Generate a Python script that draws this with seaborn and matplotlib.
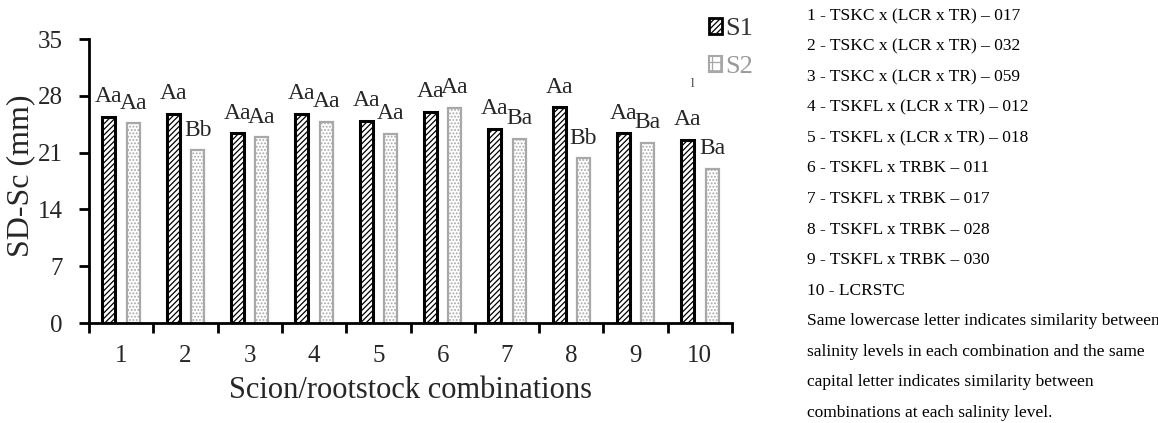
import numpy as np
import pandas as pd
import seaborn as sns
import matplotlib.pyplot as plt
import matplotlib.patches as mpatches

# datos
combinaciones = ["1", "2", "3", "4", "5", "6", "7", "8", "9", "10"]
s1 = [25.4, 25.8, 23.4, 25.8, 24.9, 26.0, 23.9, 26.6, 23.4, 22.6]
s2 = [24.6, 21.3, 22.9, 24.8, 23.3, 26.5, 22.7, 20.3, 22.2, 19.0]
letras_s1 = ["Aa", "Aa", "Aa", "Aa", "Aa", "Aa", "Aa", "Aa", "Aa", "Aa"]
letras_s2 = ["Aa", "Bb", "Aa", "Aa", "Aa", "Aa", "Ba", "Bb", "Ba", "Ba"]
yticks = [0, 7, 14, 21, 28, 35]

leyenda_texto = [
    "1 - TSKC x (LCR x TR) \u2013 017",
    "2 - TSKC x (LCR x TR) \u2013 032",
    "3 - TSKC x (LCR x TR) \u2013 059",
    "4 - TSKFL x (LCR x TR) \u2013 012",
    "5 - TSKFL x (LCR x TR) \u2013 018",
    "6 - TSKFL x TRBK \u2013 011",
    "7 - TSKFL x TRBK \u2013 017",
    "8 - TSKFL x TRBK \u2013 028",
    "9 - TSKFL x TRBK \u2013 030",
    "10 - LCRSTC",
    "Same lowercase letter indicates similarity between",
    "salinity levels in each combination and the same",
    "capital letter indicates similarity between",
    "combinations at each salinity level.",
]

df = pd.DataFrame({
    "comb": combinaciones * 2,
    "valor": s1 + s2,
    "nivel": ["S1"] * len(s1) + ["S2"] * len(s2),
})

sns.set_style("white")
plt.rcParams["font.family"] = ["Liberation Serif", "DejaVu Serif"]
plt.rcParams["hatch.linewidth"] = 0.9

fig = plt.figure(figsize=(11.58, 4.23), dpi=100)
ax = fig.add_axes([89 / 1158, 1 - 323 / 423, (732 - 89) / 1158, (323 - 39) / 423])

sns.barplot(data=df, x="comb", y="valor", hue="nivel", order=combinaciones,
            palette={"S1": "white", "S2": "white"}, width=0.76, gap=0.47,
            legend=False, ax=ax)

gris = "#a8a8a8"
for cont, ec, hatch, lw in zip(ax.containers, ["black", gris], ["//////", "....."], [2.2, 1.6]):
    for p in cont:
        p.set_edgecolor(ec)
        p.set_hatch(hatch)
        p.set_linewidth(lw)

# letras sobre las barras
for cont, letras in zip(ax.containers, [letras_s1, letras_s2]):
    for p, t in zip(cont, letras):
        ax.text(p.get_x() + p.get_width() / 2, p.get_height() + 1.8, t,
                ha="center", va="baseline", fontsize=17)

ax.set_ylim(0, 35)
ax.set_xlim(-0.5, len(combinaciones) - 0.5)
ax.set_yticks(yticks)
ax.set_xticks(np.arange(len(combinaciones) + 1) - 0.5)
ax.set_xticklabels([])
ax.set_xticks(np.arange(len(combinaciones)), minor=True)
ax.set_xticklabels(combinaciones, minor=True)
ax.tick_params(axis="x", which="major", direction="out", length=7, width=2, color="black")
ax.tick_params(axis="x", which="minor", length=0, pad=16, labelsize=18)
ax.tick_params(axis="y", direction="out", length=7, width=2, color="black", pad=12, labelsize=18)
ax.tick_params(bottom=True, left=True)

for s in ["top", "right"]:
    ax.spines[s].set_visible(False)
for s in ["left", "bottom"]:
    ax.spines[s].set_color("black")
    ax.spines[s].set_linewidth(2)

ax.set_xlabel("Scion/rootstock combinations", fontsize=22, labelpad=6)
ax.set_ylabel("SD-Sc (mm)", fontsize=23)
ax.yaxis.set_label_coords(-0.084, 0.52)

# leyenda
h1 = mpatches.Patch(facecolor="white", edgecolor="black", hatch="//////", linewidth=2, label="S1")
h2 = mpatches.Patch(facecolor="white", edgecolor=gris, hatch="++", linewidth=1.5, label="S2")
leg = fig.legend(handles=[h1, h2], loc="upper left", bbox_to_anchor=(709 / 1158, 1 - 18 / 423),
                 frameon=False, fontsize=19, handlelength=0.5, handleheight=0.55,
                 handletextpad=0.1, labelspacing=0.6, borderpad=0, borderaxespad=0)
leg.get_texts()[0].set_color("#333333")
leg.get_texts()[1].set_color("#999999")
fig.text(692 / 1158, 1 - 84 / 423, "l", fontsize=9, color="#333333", ha="center", va="center")

# texto de la derecha
for i, linea in enumerate(leyenda_texto):
    fig.text(807 / 1158, 1 - (16 + 30.5 * i) / 423, linea, fontsize=12.5,
             ha="left", va="center", color="black")

plt.savefig("out.png", dpi=100)
